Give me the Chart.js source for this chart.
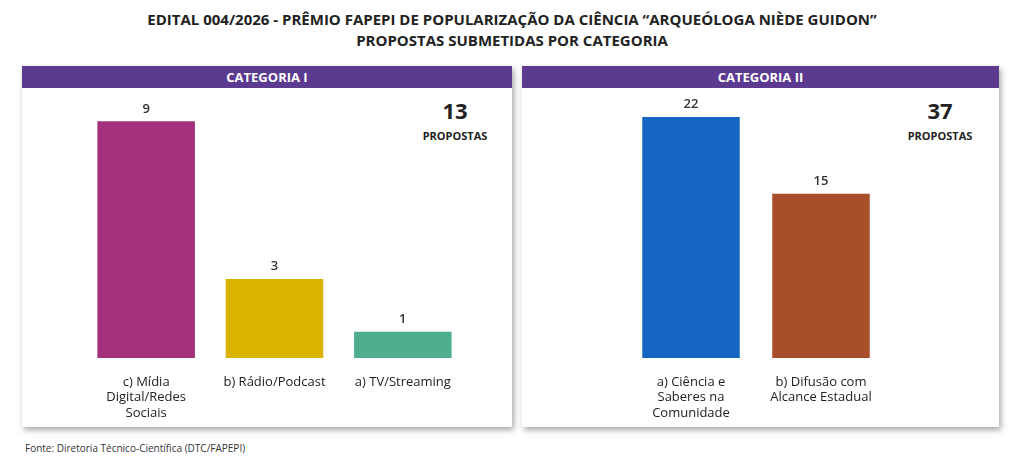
<!DOCTYPE html>
<html><head><meta charset="utf-8">
<script src="https://cdn.jsdelivr.net/npm/chart.js@4"></script>
<style>
body{margin:0;width:1024px;height:462px;background:#fff;font-family:"Open Sans",sans-serif;position:relative;overflow:hidden}
.title{position:absolute;top:9px;left:0;width:1024px;text-align:center;font-weight:700;font-size:15px;line-height:21px;color:#222}
.panel{position:absolute;background:#fff;box-shadow:2px 3px 6px rgba(0,0,0,0.35)}
.hdr{position:absolute;left:0;top:0;right:0;height:22px;background:#5B3A90;color:#fff;font-weight:700;font-size:13px;text-align:center;line-height:22px}
.big{position:absolute;font-weight:700;font-size:22px;color:#222;text-align:center;width:100px}
.sub{position:absolute;font-weight:700;font-size:11px;color:#222;text-align:center;width:100px}
.src{position:absolute;left:25px;top:441px;font-size:10px;color:#333}
.cv{position:absolute}
</style></head><body>
<div class="title">EDITAL 004/2026 - PRÊMIO FAPEPI DE POPULARIZAÇÃO DA CIÊNCIA “ARQUEÓLOGA NIÈDE GUIDON”<br>PROPOSTAS SUBMETIDAS POR CATEGORIA</div>
<div class="panel" style="left:22px;top:66px;width:490px;height:361px"><div class="hdr">CATEGORIA I</div></div>
<div class="panel" style="left:522px;top:66px;width:477px;height:361px"><div class="hdr">CATEGORIA II</div></div>
<div class="big" style="left:405px;top:95px">13</div><div class="sub" style="left:405px;top:128px">PROPOSTAS</div>
<div class="big" style="left:890px;top:95px">37</div><div class="sub" style="left:890px;top:128px">PROPOSTAS</div>
<div class="cv" style="left:82px;top:95px;width:385px;height:333px"><canvas id="c1"></canvas></div>
<div class="cv" style="left:626px;top:95px;width:260px;height:333px"><canvas id="c2"></canvas></div>
<div class="src">Fonte: Diretoria Técnico-Científica (DTC/FAPEPI)</div>
<script>
const cat1=[["c) Mídia","Digital/Redes","Sociais"],"b) Rádio/Podcast","a) TV/Streaming"];
const val1=[9,3,1];
const col1=["#A3317B","#D9B300","#4DAE8B"];
const cat2=[["a) Ciência e","Saberes na","Comunidade"],["b) Difusão com","Alcance Estadual"]];
const val2=[22,15];
const col2=["#1466C2","#A84E2A"];
const valPlugin={id:"v",afterDatasetsDraw(c){const ctx=c.ctx;const m=c.getDatasetMeta(0);ctx.save();ctx.font="600 13px 'Open Sans'";ctx.fillStyle="#333";ctx.textAlign="center";ctx.textBaseline="bottom";m.data.forEach((b,i)=>ctx.fillText(c.data.datasets[0].data[i],b.x,b.y-6));ctx.restore();}};
function mk(id,cats,vals,cols,max,bp){new Chart(document.getElementById(id),{type:"bar",data:{labels:cats,datasets:[{data:vals,backgroundColor:cols,barPercentage:bp,categoryPercentage:1}]},
options:{responsive:true,maintainAspectRatio:false,animation:false,layout:{padding:0},plugins:{legend:{display:false},tooltip:{enabled:false}},
scales:{y:{display:false,min:0,max:max},x:{grid:{display:false},border:{display:false},afterFit(s){s.height=70;},ticks:{color:"#222",font:{family:"Open Sans",size:13},padding:8,maxRotation:0,autoSkip:false}}}},plugins:[valPlugin]});}
mk("c1",cat1,val1,col1,10,0.76);
mk("c2",cat2,val2,col2,24,0.75);
</script></body></html>
